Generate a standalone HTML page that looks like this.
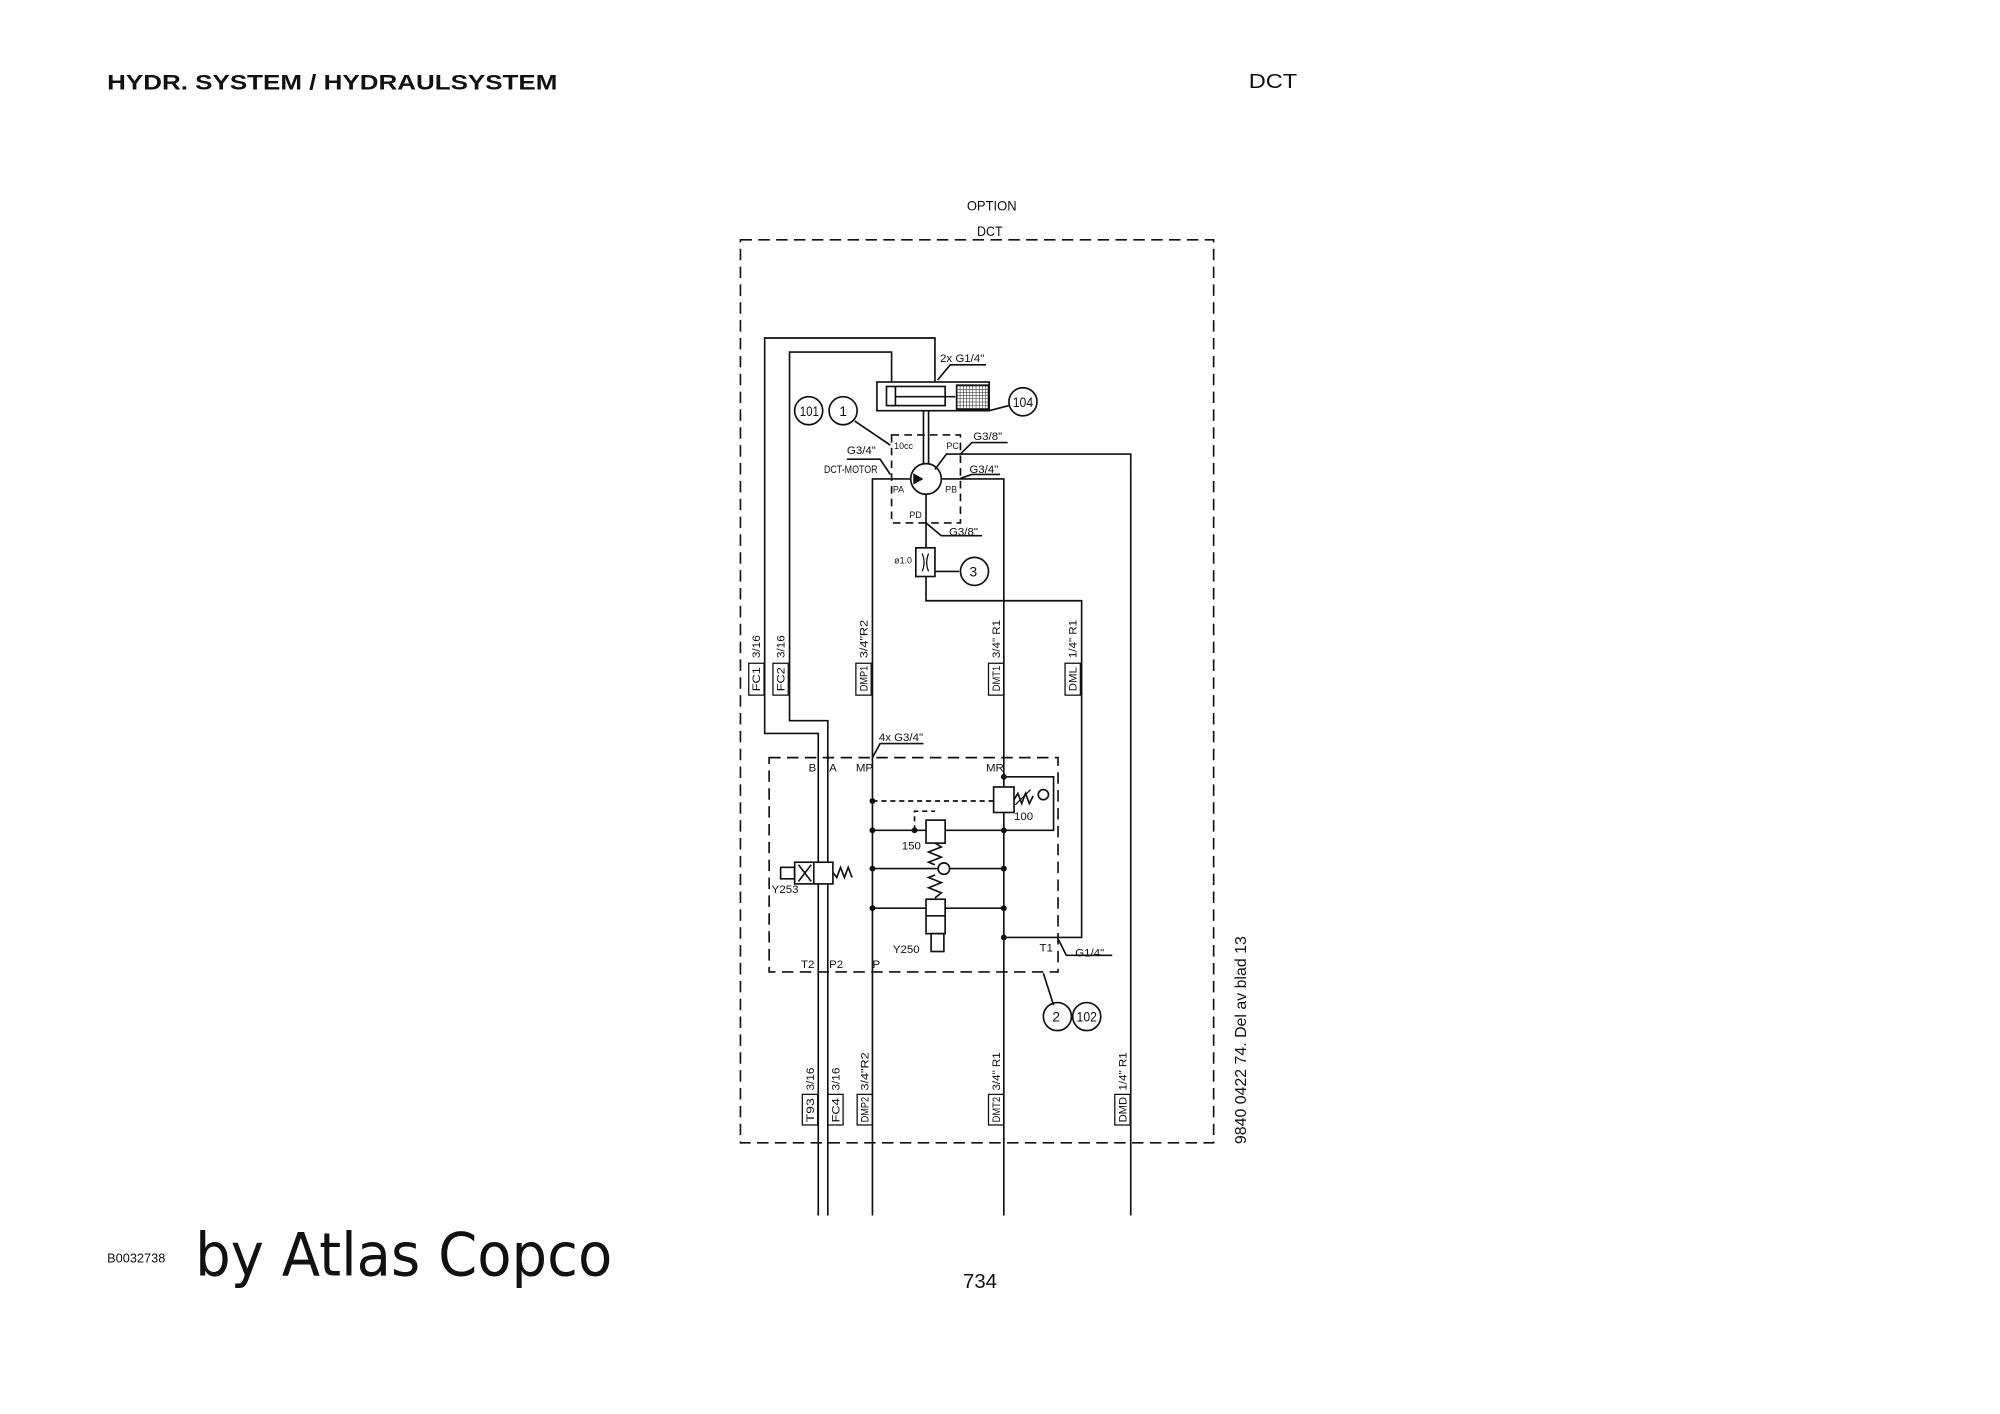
<!DOCTYPE html>
<html><head><meta charset="utf-8"><style>
html,body{margin:0;padding:0;background:#fff}
svg{display:block}
text{font-family:"Liberation Sans",sans-serif;fill:#111}
.s{font-size:8.5px}
</style></head><body>
<svg width="2000" height="1414" viewBox="0 0 1568 1108.6" xmlns="http://www.w3.org/2000/svg">
<defs>
<pattern id="g" width="2.5" height="2.5" patternUnits="userSpaceOnUse"><rect width="2.5" height="2.5" fill="#fff"/><path d="M0 0H2.5M0 0V2.5" stroke="#111" stroke-width="0.8"/></pattern>
</defs>
<rect width="1568" height="1109" fill="#fff"/>
<text x="84" y="70" font-size="17" font-weight="bold" textLength="353" lengthAdjust="spacingAndGlyphs">HYDR. SYSTEM / HYDRAULSYSTEM</text>
<text x="979" y="69" font-size="16" textLength="38" lengthAdjust="spacingAndGlyphs">DCT</text>
<text x="84" y="990" font-size="10">B0032738</text>
<text x="153" y="1000" font-size="47" textLength="327" lengthAdjust="spacingAndGlyphs" style="font-family:'DejaVu Sans',sans-serif">by Atlas Copco</text>
<text x="755" y="1010" font-size="16">734</text>
<text transform="translate(977,897) rotate(-90)" font-size="12" textLength="163" lengthAdjust="spacingAndGlyphs">9840 0422 74. Del av blad 13</text>
<text x="758" y="165" style="font-size:11px" textLength="39" lengthAdjust="spacingAndGlyphs">OPTION</text>
<text x="766" y="185" style="font-size:11px" textLength="20" lengthAdjust="spacingAndGlyphs">DCT</text>

<g fill="none" stroke="#111" stroke-width="1.3">
<rect x="580.5" y="188" width="371" height="708" stroke-dasharray="9,5"/>
<rect x="603" y="594" width="226.5" height="168" stroke-dasharray="9,5"/>
<rect x="699" y="341" width="54" height="69" stroke-dasharray="6,4"/>

<polyline points="733,299.5 733,265 599.5,265 599.5,575 641.5,575 641.5,953"/>
<polyline points="699,299.5 699,276 619,276 619,565 649,565 649,953"/>
<rect x="687.5" y="299.5" width="88" height="22.5"/>
<rect x="695" y="303" width="46" height="15"/>
<line x1="702" y1="303" x2="702" y2="318"/>
<line x1="702" y1="311" x2="749" y2="311"/>
<rect x="750" y="302" width="25" height="19" fill="url(#g)"/>
<line x1="724" y1="322" x2="724" y2="364"/>
<line x1="728" y1="322" x2="728" y2="364"/>
<circle cx="726" cy="375.5" r="12" fill="#fff"/>
<polyline points="684,953 684,375.5 714,375.5"/>
<polyline points="738,375.5 787,375.5 787,953"/>
<polyline points="733,368 742,356 886.5,356 886.5,953"/>
<polyline points="726,387.5 726,429.5"/>
<rect x="718" y="429.5" width="15" height="22.5"/>
<path d="M723 434 Q726 441 723 448 M728 434 Q725 441 728 448" stroke-width="1"/>
<polyline points="726,452 726,471 848,471 848,735 787,735"/>
<line x1="733" y1="448" x2="752" y2="448"/>
<circle cx="764" cy="448" r="11"/>
<circle cx="634" cy="322" r="11"/>
<circle cx="661" cy="322" r="11"/>
<line x1="670" y1="330" x2="698" y2="349"/>
<circle cx="802" cy="315" r="11"/>
<line x1="775.5" y1="322" x2="791" y2="318"/>
<polyline points="735,298 745,286 773,286"/>
<polyline points="753,356 762,347 790,347"/>
<polyline points="753,375 762,372 784,372"/>
<polyline points="698,372 690,360 664,360"/>
<polyline points="726,410 738,420 770,420"/>
<polyline points="684,594 690,583 724,583"/>
<polyline points="829,735 836,749 872,749"/>
<polyline points="818,763 826,788"/>
<circle cx="829" cy="797" r="11"/>
<circle cx="852" cy="797" r="11"/>

<line x1="684" y1="651" x2="787" y2="651"/>
<line x1="684" y1="681" x2="787" y2="681"/>
<line x1="684" y1="712" x2="787" y2="712"/>
<polyline points="787,609 826,609 826,651 787,651"/>
<line x1="684" y1="628" x2="779" y2="628" stroke-dasharray="4,3"/>
<rect x="779" y="617" width="16" height="20" fill="#fff"/>
<polyline points="795,627 798,622 801,630 804,622 807,630 810,624"/>
<line x1="796" y1="631" x2="808" y2="619" stroke-width="1"/>
<circle cx="818" cy="623" r="4" fill="#fff"/>
<rect x="726" y="643" width="15" height="18" fill="#fff"/>
<polyline points="733,661 738,664 728,668 738,672 728,676 733,678"/>
<polyline points="717,651 717,636 733,636" stroke-dasharray="4,3"/>
<circle cx="740" cy="681" r="4.5" fill="#fff"/>
<polyline points="733,704 738,700 728,696 738,692 728,688 733,686"/>
<rect x="726" y="705" width="15" height="27" fill="#fff"/>
<line x1="726" y1="718" x2="741" y2="718"/>
<rect x="730" y="732" width="10" height="14"/>
<rect x="623" y="676" width="30" height="17" fill="#fff"/>
<line x1="638" y1="676" x2="638" y2="693"/>
<line x1="626" y1="678" x2="636" y2="691"/>
<line x1="636" y1="678" x2="626" y2="691"/>
<rect x="612" y="680" width="11" height="9"/>
<polyline points="653,684 656,688 659,680 662,688 665,680 668,688"/>
</g>
<g fill="#111">
<circle cx="684" cy="628" r="2.3"/><circle cx="684" cy="651" r="2.3"/><circle cx="684" cy="681" r="2.3"/><circle cx="684" cy="712" r="2.3"/>
<circle cx="787" cy="609" r="2.3"/><circle cx="787" cy="651" r="2.3"/><circle cx="787" cy="681" r="2.3"/><circle cx="787" cy="712" r="2.3"/><circle cx="787" cy="735" r="2.3"/>
<circle cx="717" cy="651" r="2.3"/>
<polygon points="716,371 724,375.5 716,380"/>
</g>

<g style="font-size:9px">
<text x="737" y="284">2x G1/4"</text>
<text x="627" y="326" style="font-size:11px" textLength="15" lengthAdjust="spacingAndGlyphs">101</text>
<text x="658" y="326" style="font-size:11px">1</text>
<text x="794" y="319" style="font-size:11px" textLength="16" lengthAdjust="spacingAndGlyphs">104</text>
<text x="760" y="452" style="font-size:11px">3</text>
<text x="825" y="801" style="font-size:11px">2</text>
<text x="844" y="801" style="font-size:11px" textLength="16" lengthAdjust="spacingAndGlyphs">102</text>
<text x="701" y="352" style="font-size:7px">10cc</text>
<text x="742" y="352" style="font-size:7px">PC</text>
<text x="763" y="345">G3/8"</text>
<text x="664" y="356">G3/4"</text>
<text x="646" y="371" textLength="42" lengthAdjust="spacingAndGlyphs">DCT-MOTOR</text>
<text x="760" y="371">G3/4"</text>
<text x="700" y="386" style="font-size:7px">PA</text>
<text x="741" y="386" style="font-size:7px">PB</text>
<text x="713" y="406" style="font-size:7px">PD</text>
<text x="744" y="420">G3/8"</text>
<text x="701" y="442" style="font-size:7px">ø1.0</text>
<text x="689" y="581">4x G3/4"</text>
<text x="634" y="605">B</text><text x="650" y="605">A</text><text x="671" y="605">MP</text><text x="773" y="605">MR</text>
<text x="795" y="643">100</text><text x="707" y="666">150</text>
<text x="605" y="700">Y253</text><text x="700" y="747">Y250</text>
<text x="628" y="759">T2</text><text x="650" y="759">P2</text><text x="684" y="759">P</text>
<text x="815" y="746">T1</text><text x="843" y="750">G1/4"</text>
</g>
<g fill="none" stroke="#111" stroke-width="1">
<rect x="587" y="520" width="12" height="25"/><rect x="606" y="520" width="12" height="25"/>
<rect x="671" y="520" width="12" height="25"/><rect x="775" y="520" width="12" height="25"/><rect x="835" y="520" width="12" height="25"/>
<rect x="629" y="858" width="12" height="24"/><rect x="649" y="858" width="12" height="24"/><rect x="672" y="858" width="12" height="24"/><rect x="775" y="858" width="12" height="24"/><rect x="874" y="858" width="12" height="24"/>
</g>
<g style="font-size:8.5px">
<text transform="translate(596,542) rotate(-90)" textLength="19" lengthAdjust="spacingAndGlyphs">FC1</text>
<text transform="translate(596,516) rotate(-90)" textLength="18" lengthAdjust="spacingAndGlyphs">3/16</text>
<text transform="translate(615,542) rotate(-90)" textLength="19" lengthAdjust="spacingAndGlyphs">FC2</text>
<text transform="translate(615,516) rotate(-90)" textLength="18" lengthAdjust="spacingAndGlyphs">3/16</text>
<text transform="translate(680,542) rotate(-90)" textLength="20" lengthAdjust="spacingAndGlyphs">DMP1</text>
<text transform="translate(680,516) rotate(-90)" textLength="30" lengthAdjust="spacingAndGlyphs">3/4"R2</text>
<text transform="translate(784,542) rotate(-90)" textLength="20" lengthAdjust="spacingAndGlyphs">DMT1</text>
<text transform="translate(784,516) rotate(-90)" textLength="30" lengthAdjust="spacingAndGlyphs">3/4" R1</text>
<text transform="translate(844,542) rotate(-90)" textLength="19" lengthAdjust="spacingAndGlyphs">DML</text>
<text transform="translate(844,516) rotate(-90)" textLength="30" lengthAdjust="spacingAndGlyphs">1/4" R1</text>
<text transform="translate(638,880) rotate(-90)" textLength="19" lengthAdjust="spacingAndGlyphs">T93</text>
<text transform="translate(638,855) rotate(-90)" textLength="18" lengthAdjust="spacingAndGlyphs">3/16</text>
<text transform="translate(658,880) rotate(-90)" textLength="19" lengthAdjust="spacingAndGlyphs">FC4</text>
<text transform="translate(658,855) rotate(-90)" textLength="18" lengthAdjust="spacingAndGlyphs">3/16</text>
<text transform="translate(681,880) rotate(-90)" textLength="20" lengthAdjust="spacingAndGlyphs">DMP2</text>
<text transform="translate(681,855) rotate(-90)" textLength="30" lengthAdjust="spacingAndGlyphs">3/4"R2</text>
<text transform="translate(784,880) rotate(-90)" textLength="20" lengthAdjust="spacingAndGlyphs">DMT2</text>
<text transform="translate(784,855) rotate(-90)" textLength="30" lengthAdjust="spacingAndGlyphs">3/4" R1</text>
<text transform="translate(883,880) rotate(-90)" textLength="20" lengthAdjust="spacingAndGlyphs">DMD</text>
<text transform="translate(883,855) rotate(-90)" textLength="30" lengthAdjust="spacingAndGlyphs">1/4" R1</text>
</g>
</svg>
</body></html>
